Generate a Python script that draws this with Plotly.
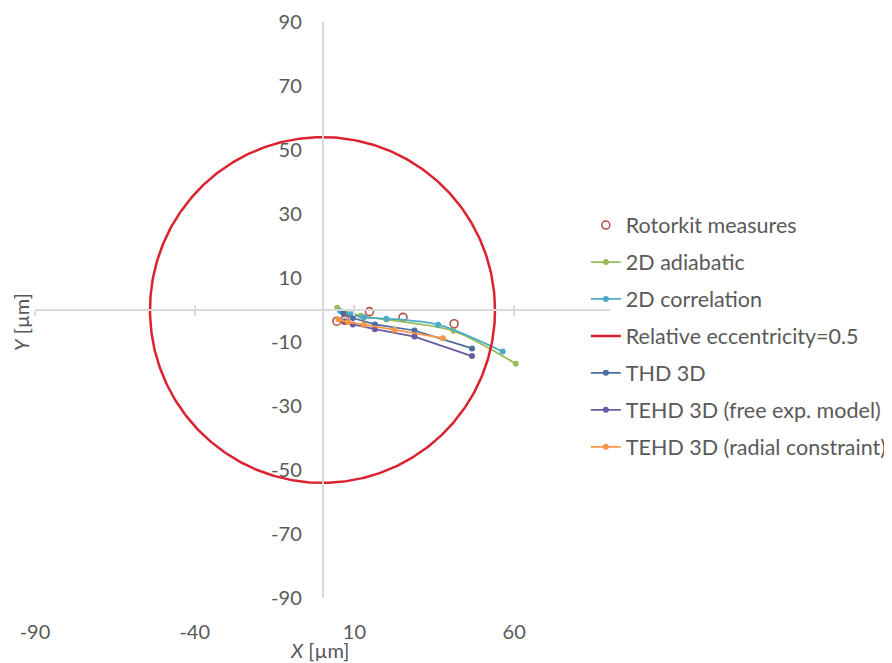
import numpy as np
import plotly.graph_objects as go

# ---- data (µm) ----
rotorkit_x = [4.5, 7.0, 14.7, 25.2, 41.2]
rotorkit_y = [-3.5, -3.2, -0.5, -2.3, -4.3]

adiab_x = [4.6, 7.5, 12.0, 20.0, 41.0, 60.5]
adiab_y = [0.7, -0.6, -1.8, -3.0, -6.5, -16.8]

corr_x = [5.5, 9.0, 13.0, 20.0, 36.2, 56.4]
corr_y = [-0.3, -1.3, -2.3, -2.7, -4.6, -13.0]

ecc_radius = 54.0

thd_x = [6.5, 9.5, 16.4, 28.8, 46.8]
thd_y = [-1.0, -2.5, -4.5, -6.4, -12.0]

tehd_free_x = [7.0, 9.5, 16.4, 28.8, 46.8]
tehd_free_y = [-3.5, -4.5, -6.0, -8.3, -14.4]

tehd_rad_x = [5.0, 8.0, 13.0, 22.5, 37.7]
tehd_rad_y = [-3.0, -3.8, -4.6, -6.2, -8.8]

x_ticks = [-90, -40, 10, 60]
x_labels = ["-90", "-40", "10", "60"]
y_ticks = [-90, -70, -50, -30, -10, 10, 30, 50, 70, 90]
y_labels = ["-90", "-70", "-50", "-30", "-10", "10", "30", "50", "70", "90"]

theta = np.linspace(0, 2 * np.pi, 361)
circle_x = ecc_radius * np.cos(theta)
circle_y = ecc_radius * np.sin(theta)

FONT = "Lato"
GREY = "#595959"
AXIS = "#D9D9D9"
TICK_SIZE = 20
LEG_SIZE = 21.5

fig = go.Figure()

def line_trace(x, y, name, color, shape="linear"):
    return go.Scatter(
        x=x, y=y, name=name, mode="lines+markers",
        line=dict(color=color, width=1.75, shape=shape, smoothing=0.8),
        marker=dict(color=color, size=6),
        legendgroup=name,
    )

fig.add_trace(go.Scatter(
    x=rotorkit_x, y=rotorkit_y, name="Rotorkit measures", mode="markers",
    marker=dict(symbol="circle-open", size=8, color="#B5504D", line=dict(width=1.6)),
    legendgroup="rk",
))
fig.add_trace(line_trace(adiab_x, adiab_y, "2D adiabatic", "#9BBB59", "spline"))
fig.add_trace(line_trace(corr_x, corr_y, "2D correlation", "#4BACC6", "spline"))
fig.add_trace(go.Scatter(
    x=circle_x, y=circle_y, name="Relative eccentricity=0.5", mode="lines",
    line=dict(color="#DA2230", width=2.5), legendgroup="ecc",
))
fig.add_trace(line_trace(thd_x, thd_y, "THD 3D", "#4A6D9E"))
fig.add_trace(line_trace(tehd_free_x, tehd_free_y, "TEHD 3D (free exp. model)", "#6B5B9E"))
fig.add_trace(line_trace(tehd_rad_x, tehd_rad_y, "TEHD 3D (radial constraint)", "#F79646"))

# invisible helpers for cross tick marks on the x-axis at y = 0
for ax in ("x2", "x3"):
    fig.add_trace(go.Scatter(x=[None], y=[None], xaxis=ax, yaxis="y",
                             showlegend=False, hoverinfo="skip"))

# page body has an 8px default margin, so the figure is drawn 8px in
fig.update_layout(
    width=884, height=655,
    margin=dict(l=27, r=282, t=14, b=65, autoexpand=False),
    paper_bgcolor="white", plot_bgcolor="white",
    font=dict(family=FONT, color=GREY, size=TICK_SIZE),
    showlegend=True,
    legend=dict(
        x=0.958, y=0.683, xanchor="left", yanchor="top",
        font=dict(family=FONT, size=LEG_SIZE, color=GREY),
        tracegroupgap=6, bgcolor="rgba(0,0,0,0)",
    ),
    xaxis=dict(
        range=[-90, 90], tickvals=x_ticks, ticktext=x_labels, showgrid=False,
        zeroline=False, showline=False, ticks="", automargin=False,
        tickfont=dict(size=TICK_SIZE, color=GREY), ticklabelstandoff=20,
    ),
    xaxis2=dict(
        range=[-90, 90], overlaying="x", anchor="free", position=0.5,
        tickvals=x_ticks, showticklabels=False, showgrid=False, zeroline=False,
        showline=True, linecolor=AXIS, linewidth=1.5, automargin=False,
        ticks="outside", ticklen=5, tickcolor=AXIS, tickwidth=1.5,
    ),
    xaxis3=dict(
        range=[-90, 90], overlaying="x", anchor="free", position=0.5,
        tickvals=x_ticks, showticklabels=False, showgrid=False, zeroline=False,
        showline=False, ticks="inside", ticklen=5, tickcolor=AXIS, tickwidth=1.5,
        automargin=False,
    ),
    yaxis=dict(
        range=[-90, 90], tickvals=y_ticks, ticktext=y_labels, showgrid=False,
        zeroline=False, anchor="free", position=0.5, showline=True,
        linecolor=AXIS, linewidth=1.5, ticks="", automargin=False,
        tickfont=dict(size=TICK_SIZE, color=GREY), ticklabelstandoff=16,
    ),
    annotations=[
        dict(text="<i>X</i> [µm]", xref="paper", yref="paper", x=0.495, y=0,
             yanchor="middle", yshift=-52, showarrow=False,
             font=dict(size=TICK_SIZE, color=GREY, family=FONT)),
        dict(text="<i>Y</i> [µm]", xref="paper", yref="paper", x=0, y=0.5,
             xanchor="center", yanchor="middle", xshift=-14, yshift=-12,
             textangle=-90, showarrow=False,
             font=dict(size=TICK_SIZE, color=GREY, family=FONT)),
    ],
)

fig.write_html("out.html")
